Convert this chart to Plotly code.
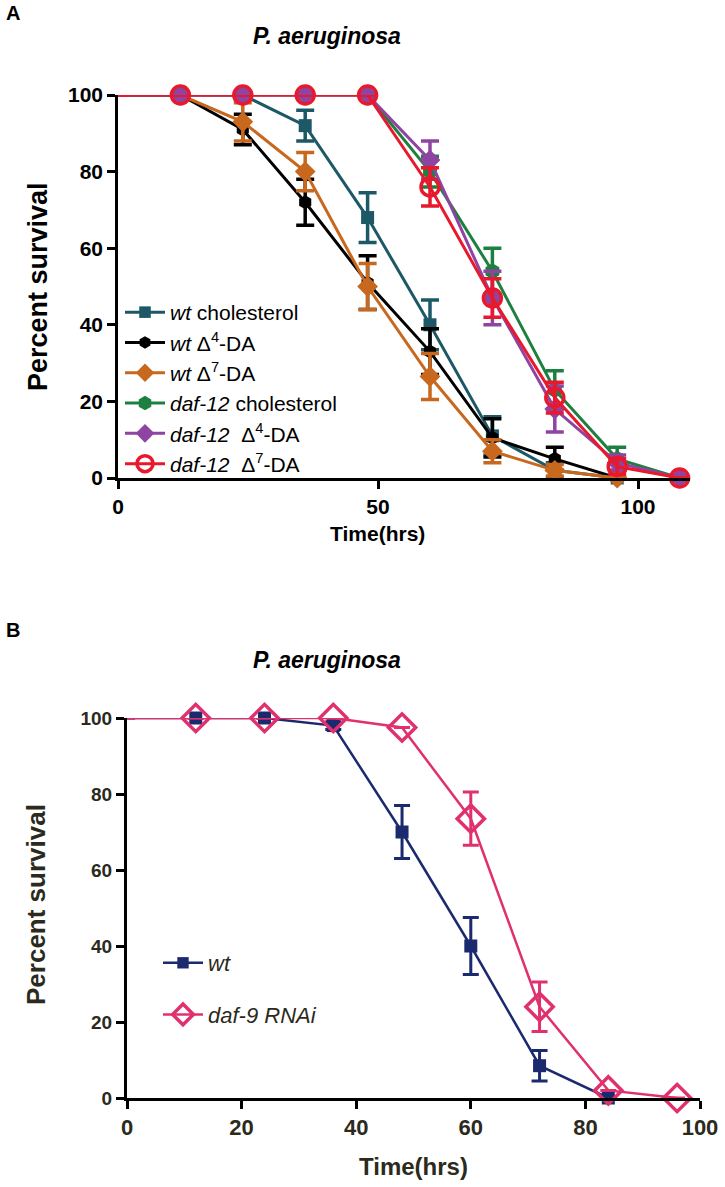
import plotly.graph_objects as go

# ---------------- Panel A data ----------------
time_a = [0, 12, 24, 36, 48, 60, 72, 84, 96]
time_a_daf = [0, 12, 24, 36, 48, 60, 72, 84, 96, 108]

wt_chol = [100, 100, 100, 92, 68, 40, 11, 2, 0]
wt_chol_err = [0, 0, 0, 4, 6.5, 6.5, 5, 2, 0]
wt_d4 = [100, 100, 91, 72, 51, 33, 10.5, 5, 0]
wt_d4_err = [0, 0, 4, 6, 7, 6, 5, 3, 0]
wt_d7 = [100, 100, 93, 80, 50, 26.5, 7, 2, 0]
wt_d7_err = [0, 0, 5, 5, 6, 6, 3, 1.5, 0]

daf12_chol = [100, 100, 100, 100, 100, 80, 54, 23, 5, 0]
daf12_chol_err = [0, 0, 0, 0, 0, 4, 6, 5, 3, 0]
daf12_d4 = [100, 100, 100, 100, 100, 83, 47, 18, 4, 0]
daf12_d4_err = [0, 0, 0, 0, 0, 5, 7, 6, 2, 0]
daf12_d7 = [100, 100, 100, 100, 100, 76, 47, 21, 3, 0]
daf12_d7_err = [0, 0, 0, 0, 0, 5, 5, 4, 2, 0]

names_a = ["<i>wt</i> cholesterol", "<i>wt</i> Δ<sup>4</sup>-DA", "<i>wt</i> Δ<sup>7</sup>-DA",
           "<i>daf-12</i> cholesterol", "<i>daf-12</i>&nbsp; Δ<sup>4</sup>-DA",
           "<i>daf-12</i>&nbsp; Δ<sup>7</sup>-DA"]
xticks_a = [0, 50, 100]
yticks = [0, 20, 40, 60, 80, 100]

# ---------------- Panel B data ----------------
time_b = [0, 12, 24, 36, 48, 60, 72, 84]
time_b_daf = [0, 12, 24, 36, 48, 60, 72, 84, 96]
wt_b = [100, 100, 100, 98, 70, 40, 8.5, 0]
wt_b_err = [0, 0, 0, 1, 7, 7.5, 4, 0]
daf9 = [100, 100, 100, 100, 97.5, 73.5, 24, 2, 0]
daf9_err = [0, 0, 0, 0, 0, 7, 6.5, 0, 0]
names_b = ["<i>wt</i>", "<i>daf-9 RNAi</i>"]
xticks_b = [0, 20, 40, 60, 80, 100]

W, H = 725, 1187
FONT = "Arial, Liberation Sans, sans-serif"

fig = go.Figure()


def sizes(n, s):
    return [0] + [s] * (n - 1)


def add_a(x, y, e, name, color, symbol, msize, open_=False):
    marker = dict(symbol=symbol, size=sizes(len(x), msize), color=color, opacity=1)
    if open_:
        marker["line"] = dict(width=3.5, color=color)
    else:
        marker["line"] = dict(width=0)
    fig.add_trace(go.Scatter(
        x=x, y=y, name=name, mode="lines+markers",
        line=dict(color=color, width=3),
        marker=marker,
        error_y=dict(type="data", array=e, color=color, thickness=3.5, width=9, visible=True),
        xaxis="x", yaxis="y", legend="legend", cliponaxis=False))


add_a(time_a, wt_chol, wt_chol_err, names_a[0], "#1d5866", "square", 13)
add_a(time_a, wt_d4, wt_d4_err, names_a[1], "#000000", "hexagon", 14)
add_a(time_a, wt_d7, wt_d7_err, names_a[2], "#c8681f", "diamond", 16)
add_a(time_a_daf, daf12_chol, daf12_chol_err, names_a[3], "#1e8040", "hexagon", 16)
add_a(time_a_daf, daf12_d4, daf12_d4_err, names_a[4], "#8e44a0", "diamond", 16)
add_a(time_a_daf, daf12_d7, daf12_d7_err, names_a[5], "#e8192c", "circle-open", 18, open_=True)

fig.add_trace(go.Scatter(
    x=time_b, y=wt_b, name=names_b[0], mode="lines+markers",
    line=dict(color="#1b2a6e", width=2.5),
    marker=dict(symbol="square", size=sizes(len(time_b), 13), color="#1b2a6e", opacity=1,
                line=dict(width=0)),
    error_y=dict(type="data", array=wt_b_err, color="#1b2a6e", thickness=3, width=8),
    xaxis="x2", yaxis="y2", legend="legend2", legendgroup="g1", cliponaxis=False))
fig.add_trace(go.Scatter(
    x=time_b_daf, y=daf9, name=names_b[1], mode="lines+markers",
    line=dict(color="#e0306e", width=2.5),
    marker=dict(symbol="diamond-open", size=sizes(len(time_b_daf), 21), color="#e0306e", opacity=1,
                line=dict(width=3.5, color="#e0306e")),
    error_y=dict(type="data", array=daf9_err, color="#e0306e", thickness=3, width=8),
    xaxis="x2", yaxis="y2", legend="legend2", legendgroup="g2", cliponaxis=False))

ax_common = dict(showline=True, linecolor="black", ticks="outside", tickcolor="black",
                 showgrid=False, zeroline=False, fixedrange=True, automargin=False)

fig.update_layout(
    width=W, height=H, margin=dict(l=0, r=0, t=0, b=0, autoexpand=False),
    paper_bgcolor="white", plot_bgcolor="white", font=dict(family=FONT, color="black"),
    xaxis=dict(domain=[118 / W, 690 / W], range=[0, 110], tickvals=xticks_a, anchor="y",
               linewidth=2.5, tickwidth=2.5, ticklen=8,
               tickfont=dict(size=21, family=FONT, weight="bold"), **ax_common),
    yaxis=dict(domain=[1 - 478 / H, 1 - 95 / H], range=[0, 100], tickvals=yticks, anchor="x",
               linewidth=2.5, tickwidth=2.5, ticklen=8,
               tickfont=dict(size=21, family=FONT, weight="bold"), **ax_common),
    xaxis2=dict(domain=[127 / W, 700 / W], range=[0, 100], tickvals=xticks_b, anchor="y2",
                linewidth=3, tickwidth=3, ticklen=8,
                tickfont=dict(size=22, family=FONT, weight="bold", color="#2b2a1c"), **ax_common),
    yaxis2=dict(domain=[1 - 1098 / H, 1 - 718 / H], range=[0, 100], tickvals=yticks, anchor="x2",
                linewidth=3, tickwidth=3, ticklen=8,
                tickfont=dict(size=19, family=FONT, weight="bold", color="#2b2a1c"), **ax_common),
    legend=dict(x=120 / W, y=1 - 292 / H, xanchor="left", yanchor="top", bgcolor="rgba(0,0,0,0)",
                font=dict(size=21, family=FONT, color="black"), itemwidth=40, tracegroupgap=0),
    legend2=dict(x=158 / W, y=1 - 942 / H, xanchor="left", yanchor="top", bgcolor="rgba(0,0,0,0)",
                 font=dict(size=22, family=FONT, color="#2b2a1c"), itemwidth=40, tracegroupgap=20),
    showlegend=True,
)

ann = [
    dict(text="<b>A</b>", x=4 / W, y=1 - 13 / H, size=20),
    dict(text="<b>B</b>", x=4 / W, y=1 - 630 / H, size=20),
    dict(text="<b><i>P. aeruginosa</i></b>", x=327 / W, y=1 - 36 / H, size=23, xanchor="center"),
    dict(text="<b><i>P. aeruginosa</i></b>", x=327 / W, y=1 - 660 / H, size=23, xanchor="center"),
    dict(text="<b>Percent survival</b>", x=38 / W, y=1 - 287 / H, size=27, textangle=-90, xanchor="center"),
    dict(text="<b>Percent survival</b>", x=36 / W, y=1 - 905 / H, size=26, color="#2b2a1c", textangle=-90,
         xanchor="center"),
    dict(text="<b>Time(hrs)</b>", x=377 / W, y=1 - 534 / H, size=21, xanchor="center"),
    dict(text="<b>Time(hrs)</b>", x=413 / W, y=1 - 1166 / H, size=24, color="#2b2a1c", xanchor="center"),
]
for a in ann:
    size = a.pop("size")
    color = a.pop("color", "black")
    a.setdefault("xanchor", "left")
    fig.add_annotation(xref="paper", yref="paper", showarrow=False, yanchor="middle",
                       font=dict(family=FONT, color=color, size=size), **a)

fig.write_html("out.html", config={"displayModeBar": False},
               post_script="document.body.style.margin='0px';document.body.style.overflow='hidden';")
